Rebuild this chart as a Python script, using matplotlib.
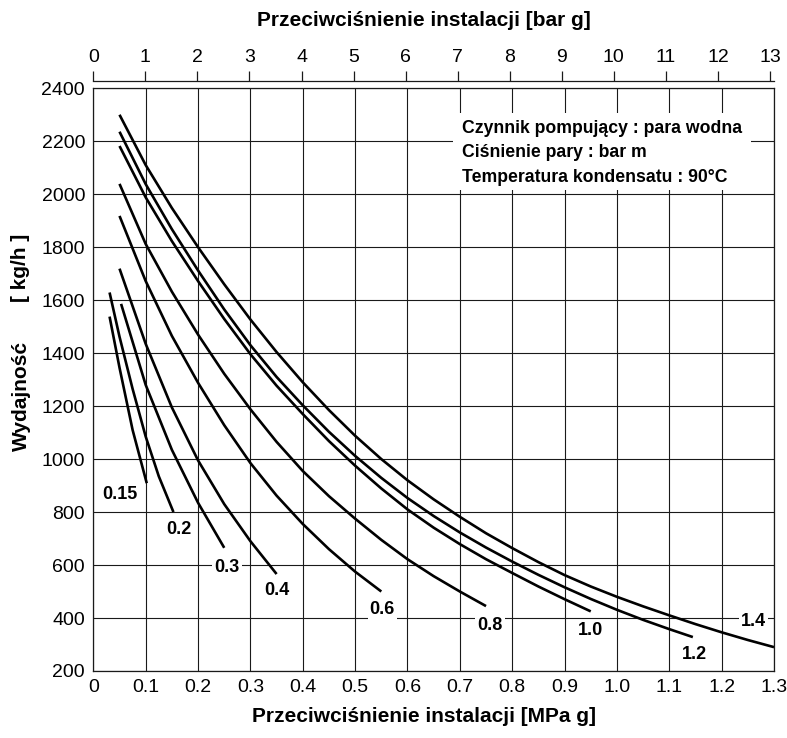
import matplotlib
matplotlib.use("Agg")
import matplotlib.pyplot as plt

plt.rcParams['font.family'] = ['Liberation Sans', 'DejaVu Sans']

# ---- data ----
series_labels = ["0.15", "0.2", "0.3", "0.4", "0.6", "0.8", "1.0", "1.2", "1.4"]

x_015 = [0.031, 0.05, 0.075, 0.102]
y_015 = [1538, 1345, 1110, 909]

x_02 = [0.031, 0.05, 0.075, 0.1, 0.125, 0.153]
y_02 = [1629, 1462, 1265, 1085, 935, 800]

x_03 = [0.053, 0.1, 0.15, 0.2, 0.25]
y_03 = [1586, 1280, 1035, 835, 665]

x_04 = [0.05, 0.1, 0.15, 0.2, 0.25, 0.3, 0.35]
y_04 = [1719, 1435, 1195, 995, 830, 690, 566]

x_06 = [0.05, 0.1, 0.15, 0.2, 0.25, 0.3, 0.35, 0.4, 0.45, 0.5, 0.55]
y_06 = [1918, 1672, 1465, 1288, 1128, 985, 862, 755, 660, 575, 500]

x_08 = [0.05, 0.1, 0.15, 0.2, 0.25, 0.3, 0.35, 0.4, 0.45, 0.5, 0.55, 0.6, 0.65, 0.7, 0.75]
y_08 = [2039, 1812, 1632, 1470, 1322, 1188, 1065, 955, 860, 775, 695, 622, 558, 500, 445]

x_10 = [0.05, 0.1, 0.15, 0.2, 0.25, 0.3, 0.35, 0.4, 0.45, 0.5, 0.55, 0.6, 0.65, 0.7,
        0.75, 0.8, 0.85, 0.9, 0.95]
y_10 = [2182, 1988, 1823, 1672, 1529, 1396, 1277, 1170, 1068, 975, 889, 810, 741, 679,
        622, 570, 519, 471, 425]

x_12 = [0.05, 0.1, 0.15, 0.2, 0.25, 0.3, 0.35, 0.4, 0.45, 0.5, 0.55, 0.6, 0.65, 0.7,
        0.75, 0.8, 0.85, 0.9, 0.95, 1.0, 1.05, 1.1, 1.145]
y_12 = [2236, 2038, 1868, 1712, 1565, 1430, 1310, 1203, 1103, 1012, 929, 853, 785, 723,
        666, 613, 563, 516, 472, 431, 393, 358, 328]

x_14 = [0.05, 0.1, 0.15, 0.2, 0.25, 0.3, 0.35, 0.4, 0.45, 0.5, 0.55, 0.6, 0.65, 0.7,
        0.75, 0.8, 0.85, 0.9, 0.95, 1.0, 1.05, 1.1, 1.15, 1.2, 1.25, 1.3]
y_14 = [2300, 2110, 1948, 1800, 1660, 1527, 1404, 1290, 1185, 1088, 1000, 920, 848, 782,
        720, 664, 611, 562, 519, 480, 444, 410, 377, 346, 317, 290]

# label anchor positions (data coords)
label_x = [0.051, 0.164, 0.255, 0.351, 0.552, 0.758, 0.949, 1.148, 1.261]
label_y = [865, 736, 589, 504, 431, 371, 352, 262, 387]

x_ticks = [0, 0.1, 0.2, 0.3, 0.4, 0.5, 0.6, 0.7, 0.8, 0.9, 1.0, 1.1, 1.2, 1.3]
x_ticklabels = ["0", "0.1", "0.2", "0.3", "0.4", "0.5", "0.6", "0.7", "0.8", "0.9",
                "1.0", "1.1", "1.2", "1.3"]
y_ticks = list(range(200, 2401, 200))
bar_ticks = list(range(0, 14))

info_lines = ["Czynnik pompujący : para wodna",
              "Ciśnienie pary : bar m",
              "Temperatura kondensatu : 90°C"]

# ---- figure ----
fig = plt.figure(figsize=(7.87, 7.38), dpi=100)
ax = fig.add_axes([0.1186, 0.0908, 0.9835 - 0.1186, 0.8804 - 0.0908])

ax.set_xlim(0, 1.3)
ax.set_ylim(200, 2400)
ax.set_xticks(x_ticks)
ax.set_xticklabels(x_ticklabels)
ax.set_yticks(y_ticks)
ax.tick_params(axis='both', length=0, labelsize=14, pad=6)
ax.tick_params(axis='y', pad=6)
ax.grid(True, color='#1a1a1a', linewidth=0.8)
ax.set_axisbelow(True)
for s in ax.spines.values():
    s.set_linewidth(0.9)
    s.set_color('#1a1a1a')

curves = [(x_015, y_015), (x_02, y_02), (x_03, y_03), (x_04, y_04), (x_06, y_06),
          (x_08, y_08), (x_10, y_10), (x_12, y_12), (x_14, y_14)]
for (xs, ys) in curves:
    ax.plot(xs, ys, color='black', linewidth=1.9, solid_capstyle='butt',
            solid_joinstyle='round', zorder=3)

for lab, lx, ly in zip(series_labels, label_x, label_y):
    ax.text(lx, ly, lab, fontsize=13, fontweight='bold', ha='center', va='center',
            zorder=4,
            bbox=dict(boxstyle='square,pad=0.12', fc='white', ec='none'))

# info box
ax.fill_between([0.686, 1.257], 2016, 2307, color='white', zorder=2, linewidth=0)
for i, t in enumerate(info_lines):
    ax.text(0.705, 2248 - i * 92, t, fontsize=12.7, fontweight='bold',
            ha='left', va='center', zorder=4)

# top secondary axis in bar g
sec = ax.secondary_xaxis(1.012, functions=(lambda x: x * 10.06, lambda b: b / 10.06))
sec.set_xticks(bar_ticks)
sec.tick_params(axis='x', length=7, width=0.9, labelsize=14, pad=4, color='#1a1a1a')
sec.spines['top'].set_linewidth(0.9)
sec.spines['top'].set_color('#1a1a1a')

fig.text(0.539, 1 - 21 / 738, "Przeciwciśnienie instalacji [bar g]", fontsize=15,
         fontweight='bold', ha='center', va='center')
fig.text(0.539, 1 - 717 / 738, "Przeciwciśnienie instalacji [MPa g]", fontsize=15,
         fontweight='bold', ha='center', va='center')
fig.text(21 / 787, 1 - 396 / 738, "Wydajność", fontsize=15, fontweight='bold',
         rotation=90, ha='center', va='center')
fig.text(21 / 787, 1 - 268 / 738, "[ kg/h ]", fontsize=15, fontweight='bold',
         rotation=90, ha='center', va='center')

fig.savefig("out.png", dpi=100)
